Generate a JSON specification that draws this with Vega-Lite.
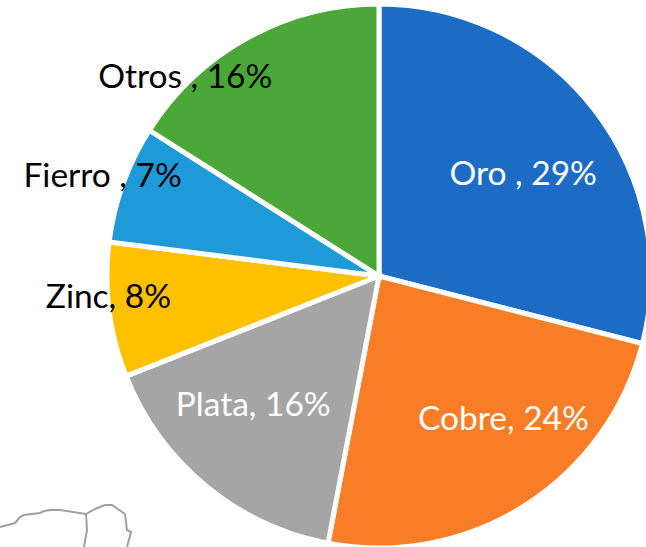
{"$schema":"https://vega.github.io/schema/vega-lite/v6.json","width":534,"height":542,"padding":{"left":112,"top":5,"right":0,"bottom":0},"autosize":"none","background":"white","config":{"view":{"stroke":null}},
"layer":[
{"data":{"values":[
{"t":"a","i":0,"x":0,"y":527},{"t":"a","i":1,"x":15,"y":523},{"t":"a","i":2,"x":20,"y":517},{"t":"a","i":3,"x":24,"y":515},{"t":"a","i":4,"x":40,"y":513},{"t":"a","i":5,"x":44,"y":511},{"t":"a","i":6,"x":50,"y":510},{"t":"a","i":7,"x":60,"y":510},{"t":"a","i":8,"x":86,"y":514},{"t":"a","i":9,"x":95,"y":509},{"t":"a","i":10,"x":105,"y":505},{"t":"a","i":11,"x":112,"y":505},{"t":"a","i":12,"x":125,"y":514},{"t":"a","i":13,"x":127,"y":530},{"t":"a","i":14,"x":131,"y":532},{"t":"a","i":15,"x":127,"y":547},
{"t":"b","i":0,"x":86,"y":514},{"t":"b","i":1,"x":87,"y":530},{"t":"b","i":2,"x":84,"y":547}]},
"mark":{"type":"line","stroke":"#a0a0a0","strokeWidth":2,"clip":false},
"encoding":{"x":{"field":"x","type":"quantitative","axis":null,"scale":{"domain":[112,646]}},"y":{"field":"y","type":"quantitative","axis":null,"scale":{"domain":[547,5]}},"detail":{"field":"t"},"order":{"field":"i"}}},
{"data":{"values":[
{"nombre":"Oro","pct":29,"orden":1,"etiqueta":"Oro , 29%"},
{"nombre":"Cobre","pct":24,"orden":2,"etiqueta":"Cobre, 24%"},
{"nombre":"Plata","pct":16,"orden":3,"etiqueta":"Plata, 16%"},
{"nombre":"Zinc","pct":8,"orden":4,"etiqueta":"Zinc, 8%"},
{"nombre":"Fierro","pct":7,"orden":5,"etiqueta":"Fierro , 7%"},
{"nombre":"Otros","pct":16,"orden":6,"etiqueta":"Otros , 16%"}]},
"transform":[{"stack":"pct","sort":[{"field":"orden"}],"as":["a0","a1"]},{"calculate":"(datum.a0+datum.a1)/2","as":"mid"}],
"layer":[
{"mark":{"type":"arc","radius":272,"stroke":"white","strokeWidth":5},
"encoding":{"theta":{"field":"a0","type":"quantitative","stack":null,"scale":{"domain":[0,100]}},"theta2":{"field":"a1"},
"color":{"field":"nombre","type":"nominal","legend":null,"scale":{"domain":["Oro","Cobre","Plata","Zinc","Fierro","Otros"],"range":["#1c6cc6","#f97d26","#a5a5a5","#ffc000","#1f9ad9","#4ba838"]}}}},
{"transform":[{"filter":"datum.nombre=='Oro'"}],"mark":{"type":"text","radius":180,"dx":2,"dy":9,"font":"Lato","fontSize":33.5,"fill":"white"},"encoding":{"text":{"field":"etiqueta"},"theta":{"field":"mid","type":"quantitative","stack":null,"scale":{"domain":[0,100]}}}},
{"transform":[{"filter":"datum.nombre=='Cobre'"}],"mark":{"type":"text","radius":180,"dx":28,"dy":-8,"font":"Lato","fontSize":33.5,"fill":"white"},"encoding":{"text":{"field":"etiqueta"},"theta":{"field":"mid","type":"quantitative","stack":null,"scale":{"domain":[0,100]}}}},
{"transform":[{"filter":"datum.nombre=='Plata'"}],"mark":{"type":"text","radius":180,"dx":-11,"dy":-9,"font":"Lato","fontSize":33.5,"fill":"white"},"encoding":{"text":{"field":"etiqueta"},"theta":{"field":"mid","type":"quantitative","stack":null,"scale":{"domain":[0,100]}}}},
{"transform":[{"filter":"datum.nombre=='Zinc'"}],"mark":{"type":"text","radius":180,"dx":-92,"dy":-1,"font":"Lato","fontSize":33.5,"fill":"black"},"encoding":{"text":{"field":"etiqueta"},"theta":{"field":"mid","type":"quantitative","stack":null,"scale":{"domain":[0,100]}}}},
{"transform":[{"filter":"datum.nombre=='Fierro'"}],"mark":{"type":"text","radius":180,"dx":-107,"dy":-38,"font":"Lato","fontSize":33.5,"fill":"black"},"encoding":{"text":{"field":"etiqueta"},"theta":{"field":"mid","type":"quantitative","stack":null,"scale":{"domain":[0,100]}}}},
{"transform":[{"filter":"datum.nombre=='Otros'"}],"mark":{"type":"text","radius":180,"dx":-107,"dy":-40,"font":"Lato","fontSize":33.5,"fill":"black"},"encoding":{"text":{"field":"etiqueta"},"theta":{"field":"mid","type":"quantitative","stack":null,"scale":{"domain":[0,100]}}}}
]}
]}
